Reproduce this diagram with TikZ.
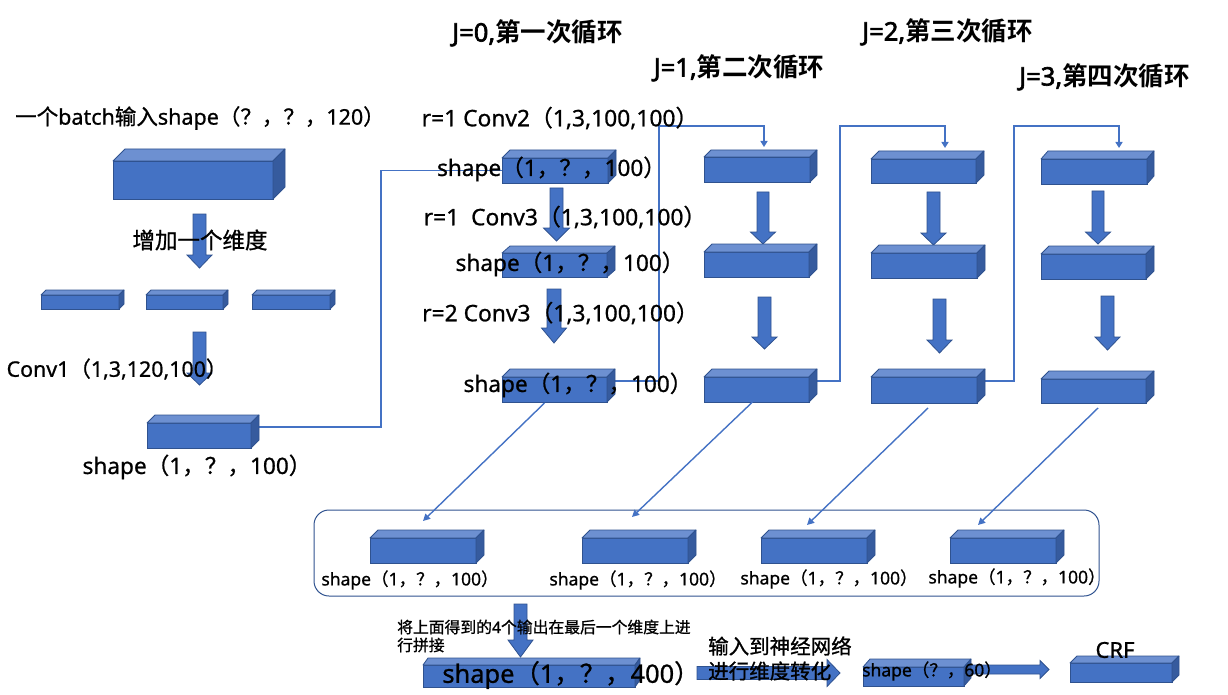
\documentclass[tikz,border=0pt]{standalone}
\usepackage{fontspec}
\setmainfont{Noto Sans}[FakeBold=0.8]
\newfontfamily\cjkreg{Noto Sans CJK SC}[FakeBold=1.0]
\newfontfamily\cjkbold{Noto Sans CJK SC Bold}
\newfontfamily\latbold{Noto Sans}[FakeBold=2.5]
\newcommand\zh[1]{{\cjkreg #1}}
\newcommand\zhb[1]{{\cjkbold #1}}
\usetikzlibrary{arrows.meta,calc,backgrounds}

\definecolor{boxblue}{HTML}{4472C4}
\definecolor{boxtop}{HTML}{6D90D1}
\definecolor{boxside}{HTML}{365B9E}
\definecolor{boxedge}{HTML}{2F528F}

% cuboid: name, front centre x, y, width, height, depth dx, depth dy
\newcommand\cuboid[7]{%
  \node[frontface, minimum width=#4pt, minimum height=#5pt] (#1) at (#2,#3) {};
  \filldraw[topface] (#1.north west) -- ++(#6,-#7) -- ++(#4,0) -- (#1.north east) -- cycle;
  \filldraw[sideface] (#1.north east) -- ++(#6,-#7) -- ++(0,#5) -- (#1.south east) -- cycle;
}
% block arrow pointing down: cx, shaft half width, head half width, top, head start, tip
\newcommand\downblock[6]{%
  \filldraw[blockarrow] (#1-#2,#4) -- (#1+#2,#4) -- (#1+#2,#5) -- (#1+#3,#5)
    -- (#1,#6) -- (#1-#3,#5) -- (#1-#2,#5) -- cycle;
}
% block arrow pointing right: cy, shaft half height, head half height, start, head start, tip
\newcommand\rightblock[6]{%
  \filldraw[blockarrow] (#4,#1-#2) -- (#5,#1-#2) -- (#5,#1-#3) -- (#6,#1)
    -- (#5,#1+#3) -- (#5,#1+#2) -- (#4,#1+#2) -- cycle;
}
% shape label with the usual (1, ?, n) dimensions
\newcommand\shp[1]{shape\zh{（}1\zh{，？，}#1\zh{）}}

\begin{document}
\begin{tikzpicture}[x=1pt,y=-1pt,
  frontface/.style={draw=boxedge, fill=boxblue, line width=0.8pt, inner sep=0pt, outer sep=0pt},
  topface/.style={draw=boxedge, fill=boxtop, line width=0.8pt, line join=round},
  sideface/.style={draw=boxedge, fill=boxside, line width=0.8pt, line join=round},
  blockarrow/.style={draw=boxedge, fill=boxblue, line width=0.8pt, line join=miter},
  conn/.style={draw=boxblue, line width=1.6pt},
  conntip/.style={conn, -{Triangle[length=6pt,width=7pt]}},
  diag/.style={draw=boxblue, line width=1.4pt, -{Triangle[length=7pt,width=7pt]}},
  lbl/.style={inner sep=0pt, text=black},
  fbot/.style={font=\fontsize{15.8}{18}\selectfont},
  fsm/.style={font=\fontsize{17.5}{21}\selectfont},
  fnn/.style={font=\fontsize{20.5}{24}\selectfont},
  ftitle/.style={font=\fontsize{21.5}{26}\selectfont},
  fconv/.style={font=\fontsize{21.4}{26}\selectfont},
  flab/.style={font=\fontsize{22.6}{27}\selectfont},
  frr/.style={font=\fontsize{22.8}{27}\selectfont},
  fadd/.style={font=\fontsize{22.5}{27}\selectfont},
  fbig/.style={font=\fontsize{25.4}{30}\selectfont},
  fJ/.style={font=\latbold\fontsize{25.5}{30}\selectfont},
]
\useasboundingbox (0,0) rectangle (1228,695);

% ---- input stage ----
\cuboid{inbox}{193}{180}{160}{38}{12}{12}
\downblock{199.5}{6.5}{12.5}{214}{255}{268}
\cuboid{sa}{80}{302}{78}{14}{5}{5}
\cuboid{sb}{184.5}{302}{77}{14}{5}{5}
\cuboid{sc}{291}{302}{78}{14}{5}{5}
\downblock{199.5}{6.5}{12.5}{332}{373}{385}
\cuboid{conv1}{199}{435.5}{104}{25}{8}{8}

% ---- loop J=0 ----
\cuboid{a1}{555}{170.5}{106}{25}{8}{8}
\downblock{556.5}{6.5}{13}{188}{228}{241}
\cuboid{a2}{554.5}{265}{105}{24}{8}{7}
\downblock{554}{7}{12.5}{289}{328}{343}
\cuboid{a3}{554.5}{389.5}{105}{25}{8}{8}

% ---- loop J=1 ----
\cuboid{b1}{757}{169.5}{106}{25}{7}{7}
\downblock{763}{6}{12.5}{192}{232}{244}
\cuboid{b2}{756.5}{264.5}{105}{25}{8}{8}
\downblock{764.5}{6.5}{12.5}{297}{337}{349}
\cuboid{b3}{756.5}{389.5}{105}{25}{8}{8}

% ---- loop J=2 ----
\cuboid{c1}{923.5}{171}{105}{24}{8}{8}
\downblock{933.5}{6.5}{12.5}{192}{233}{245}
\cuboid{c2}{924}{265.5}{106}{25}{8}{8}
\downblock{939.5}{6.5}{12.5}{299}{340}{353}
\cuboid{c3}{924}{390}{106}{26}{8}{8}

% ---- loop J=3 ----
\cuboid{d1}{1094}{171.5}{106}{25}{7}{8}
\downblock{1098}{6}{12.5}{191}{232}{244}
\cuboid{d2}{1093.5}{266.5}{105}{25}{8}{8}
\downblock{1107.5}{6.5}{12.5}{296}{337}{350}
\cuboid{d3}{1093.5}{391}{105}{24}{8}{8}

% ---- collected outputs ----
\node[draw=boxedge, line width=1pt, rounded corners=15pt, minimum width=785pt,
      minimum height=86pt, inner sep=0pt] (cont) at (706.5,553) {};
\cuboid{oa}{423}{550.5}{106}{25}{8}{8}
\cuboid{ob}{635}{550.5}{106}{25}{8}{8}
\cuboid{oc}{814}{550.5}{106}{25}{8}{8}
\cuboid{od}{1003}{550.5}{106}{25}{8}{8}

% ---- concatenation and output ----
\downblock{520.5}{6.5}{12.5}{604}{640}{657}
\cuboid{cat}{529}{676}{212}{22}{5}{7}
\rightblock{673}{6.5}{13.5}{697}{827}{840}
\rightblock{669.5}{4.5}{9}{964}{1040}{1049}
\cuboid{fc}{913.5}{676.5}{101}{19}{7}{8}
\cuboid{crfbox}{1121}{672.5}{102}{19}{7}{7}

% ---- connectors, drawn behind the boxes ----
\coordinate (k0) at (381,427);
\coordinate (k1) at (659,381);
\coordinate (k1t) at (764,126);
\coordinate (k2) at (840,381);
\coordinate (k2t) at (945,126);
\coordinate (k3) at (1014,381);
\coordinate (k3t) at (1119,126);
\begin{pgfonlayer}{background}
  \draw[conn] (conv1.center |- k0) -- (k0) -- (k0 |- a1) -- (a1.center);
  \draw[conntip] (a3.center |- k1) -- (k1) -- (k1 |- k1t) -- (k1t) -- ($(k1t |- b1.north)+(0,-10)$);
  \draw[conntip] (b3.center |- k2) -- (k2) -- (k2 |- k2t) -- (k2t) -- ($(k2t |- c1.north)+(0,-11)$);
  \draw[conntip] (c3.center |- k3) -- (k3) -- (k3 |- k3t) -- (k3t) -- ($(k3t |- d1.north)+(0,-11)$);
\end{pgfonlayer}
\draw[diag] ($(a3.south)+(-10,1)$) -- ($(oa.north)+(0,-17)$);
\draw[diag] ($(b3.south)+(-4,0)$) -- ($(ob.north)+(-3,-21)$);
\draw[diag] ($(c3.south)+(4,5)$) -- ($(oc.north)+(-7,-13)$);
\draw[diag] ($(d3.south)+(4.5,5)$) -- ($(od.north)+(-25,-13)$);

% ---- texts ----
\node[lbl,ftitle] (tin) at (200,118) {\zh{一个}batch\zh{输入}shape\zh{（？，？，}120\zh{）}};
\node[lbl,fadd] (tadd) at (200,240) {\zh{增加一个维度}};
\node[lbl,fconv] (tconv1) at (117,369) {Conv1\zh{（}1,3,120,100\zh{）}};
\node[lbl,flab] (tconv1s) at (197,467) {\shp{100}};
\node[lbl,fJ] (j0) at (537.5,33) {J=0,\zhb{第一次循环}};
\node[lbl,fJ] (j1) at (739,68) {J=1,\zhb{第二次循环}};
\node[lbl,fJ] (j2) at (947.5,32) {J=2,\zhb{第三次循环}};
\node[lbl,fJ] (j3) at (1104.5,77) {J=3,\zhb{第四次循环}};
\node[lbl,frr] (r1) at (560,118) {r=1 Conv2\zh{（}1,3,100,100\zh{）}};
\node[lbl,flab] (s01) at (551.5,169) {\shp{100}};
\node[lbl,frr] (r2) at (565,217) {r=1\ \ Conv3\zh{（}1,3,100,100\zh{）}};
\node[lbl,flab] (s02) at (570,264) {\shp{100}};
\node[lbl,frr] (r3) at (560.5,313) {r=2 Conv3\zh{（}1,3,100,100\zh{）}};
\node[lbl,flab] (s03) at (578,385) {\shp{100}};
\node[lbl,fsm] (la) at (410,580) {\shp{100}};
\node[lbl,fsm] (lb) at (638,580) {\shp{100}};
\node[lbl,fsm] (lc) at (829,579) {\shp{100}};
\node[lbl,fsm] (ld) at (1017,578) {\shp{100}};
\node[lbl,fbot,anchor=west] (cat1) at (397,627) {\zh{将上面得到的}4\zh{个输出在最后一个维度上进}};
\node[lbl,fbot,anchor=west] (cat2) at (397,645) {\zh{行拼接}};
\node[lbl,fbig] (s400) at (571,675) {\shp{400}};
\node[lbl,fnn,anchor=west] (nn1) at (708,646) {\zh{输入到神经网络}};
\node[lbl,fnn,anchor=west] (nn2) at (708,671) {\zh{进行维度转化}};
\node[lbl,fsm] (s60) at (932,671) {shape\zh{（？，}60\zh{）}};
\node[lbl,font=\fontsize{22}{26}\selectfont] (crf) at (1115,650) {CRF};
\end{tikzpicture}
\end{document}
